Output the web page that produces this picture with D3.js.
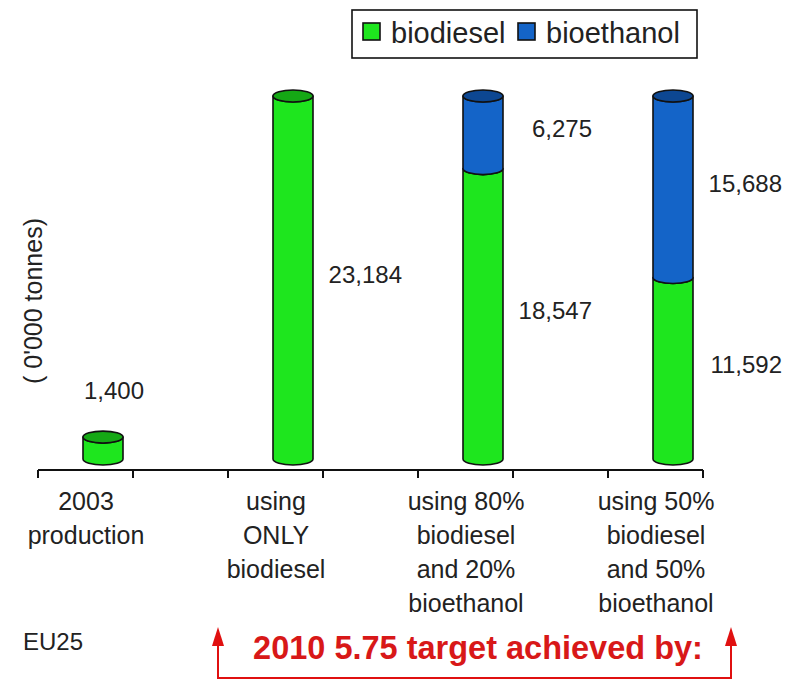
<!DOCTYPE html>
<html lang="en">
<head>
    <meta charset="UTF-8">
    <script src="https://d3js.org/d3.v7.min.js"></script>
    <title>EU25 biofuel target</title>
    <style>
        html, body {
            margin: 0px;
            padding: 0px;
            background-color: #ffffff;
            font-family: "Liberation Sans", Arial, sans-serif;
            color: #222;
        }
        #chart { display: block; }
    </style>
</head>
<body>
    <div id="chart"></div>

    <script>
        // category labels (one line per array entry)
        let categories = [
            ['2003', 'production'],
            ['using', 'ONLY', 'biodiesel'],
            ['using 80%', 'biodiesel', 'and 20%', 'bioethanol'],
            ['using 50%', 'biodiesel', 'and 50%', 'bioethanol']
        ];
        // tonnes shown on the labels ('0,000 tonnes)
        let biodieselLabel = [1400, 23184, 18547, 11592];
        let bioethanolLabel = [0, 0, 6275, 15688];
        // bar heights as drawn (biodiesel-equivalent)
        let biodieselHeight = [1400, 23184, 18547, 11592];
        let bioethanolHeight = [0, 0, 4637, 11592];

        let seriesNames = ['biodiesel', 'bioethanol'];
        let colors = { biodiesel: '#1ee61e', bioethanol: '#1464c8' };
        let capColors = { biodiesel: '#15a815', bioethanol: '#0d4792' };

        let width = 801, height = 681;
        let margin = { top: 96, bottom: 222, left: 38, right: 98 };

        let svg = d3.select('#chart').append('svg')
            .attr('width', width).attr('height', height);

        let keys = categories.map((c, i) => i);
        let x = d3.scalePoint().domain(keys).range([103, 673]);
        let y = d3.scaleLinear().domain([0, 23184]).range([height - margin.bottom, margin.top]);

        let r = 20, ry = 6;
        let fmt = d3.format(',');

        // stacked segments
        let segments = [];
        keys.forEach((k) => {
            let base = 0;
            [biodieselHeight, bioethanolHeight].forEach((arr, s) => {
                let v = arr[k];
                if (v > 0) {
                    segments.push({
                        key: k, series: seriesNames[s],
                        y0: base, y1: base + v,
                        label: s === 0 ? biodieselLabel[k] : bioethanolLabel[k]
                    });
                    base += v;
                }
            });
        });

        function body(d) {
            let cx = x(d.key), yt = y(d.y1), yb = y(d.y0);
            return `M${cx - r},${yt} A${r},${ry} 0 0 0 ${cx + r},${yt} L${cx + r},${yb} A${r},${ry} 0 0 1 ${cx - r},${yb} Z`;
        }

        let bars = svg.append('g');
        bars.selectAll('path')
            .data(segments)
            .join('path')
            .attr('d', body)
            .attr('fill', (d) => colors[d.series])
            .attr('stroke', '#111')
            .attr('stroke-width', 1.6)
            .attr('stroke-linejoin', 'round');

        // caps on top of each stack
        let tops = keys.map((k) => {
            let segs = segments.filter((s) => s.key === k);
            return segs[segs.length - 1];
        });
        bars.selectAll('ellipse')
            .data(tops)
            .join('ellipse')
            .attr('cx', (d) => x(d.key))
            .attr('cy', (d) => y(d.y1))
            .attr('rx', r)
            .attr('ry', ry)
            .attr('fill', (d) => capColors[d.series])
            .attr('stroke', '#111')
            .attr('stroke-width', 1.6);

        // value labels
        let short = (d) => y(d.y0) - y(d.y1) < 40;
        svg.append('g').selectAll('text')
            .data(segments)
            .join('text')
            .attr('x', (d) => short(d) ? x(d.key) + 11 : x(d.key) + 109)
            .attr('y', (d) => short(d) ? y(d.y1) - 38 : (y(d.y0) + y(d.y1)) / 2 + 5)
            .attr('text-anchor', (d) => short(d) ? 'middle' : 'end')
            .attr('font-size', 24)
            .attr('fill', '#222')
            .text((d) => fmt(d.label));

        // x axis
        let axisY = height - margin.bottom + 11;
        let tickPos = d3.scaleLinear().domain([0, 7]).range([margin.left, width - margin.right]);
        let axis = svg.append('g').attr('stroke', '#111').attr('stroke-width', 2);
        axis.append('line')
            .attr('x1', tickPos(0)).attr('x2', tickPos(7))
            .attr('y1', axisY).attr('y2', axisY);
        axis.selectAll('.tick')
            .data(d3.range(8))
            .join('line')
            .attr('class', 'tick')
            .attr('x1', (d) => tickPos(d)).attr('x2', (d) => tickPos(d))
            .attr('y1', axisY).attr('y2', axisY + 8);

        let labels = svg.append('g').selectAll('text')
            .data(keys)
            .join('text')
            .attr('text-anchor', 'middle')
            .attr('font-size', 25)
            .attr('fill', '#222');
        labels.selectAll('tspan')
            .data((k) => categories[k].map((line) => ({ k, line })))
            .join('tspan')
            .attr('x', (d) => x(d.k) - 17)
            .attr('y', (d, i) => axisY + 40 + i * 34)
            .text((d) => d.line);

        // y axis title
        svg.append('text')
            .attr('transform', `translate(42,301) rotate(-90)`)
            .attr('text-anchor', 'middle')
            .attr('font-size', 25)
            .attr('fill', '#222')
            .text("( 0'000 tonnes)");

        // legend
        let legend = svg.append('g');
        legend.append('rect')
            .attr('x', 352).attr('y', 10).attr('width', 345).attr('height', 48)
            .attr('fill', '#fff').attr('stroke', '#111').attr('stroke-width', 1.6);
        let legendX = [363, 518];
        let items = legend.selectAll('g')
            .data(seriesNames)
            .join('g')
            .attr('transform', (d, i) => `translate(${legendX[i]},0)`);
        items.append('rect')
            .attr('x', 0).attr('y', 23).attr('width', 17).attr('height', 17)
            .attr('fill', (d) => colors[d]).attr('stroke', '#111').attr('stroke-width', 1.6);
        items.append('text')
            .attr('x', 28).attr('y', 43)
            .attr('font-size', 29)
            .attr('fill', '#222')
            .text((d) => d);

        // footer
        svg.append('text')
            .attr('x', 23).attr('y', 650)
            .attr('font-size', 24)
            .attr('fill', '#222')
            .text('EU25');

        let red = '#e01010';
        let bracket = svg.append('g');
        bracket.append('path')
            .attr('d', 'M218,640 L218,678 L731,678 L731,640')
            .attr('fill', 'none')
            .attr('stroke', red)
            .attr('stroke-width', 2);
        [218, 731].forEach((ax) => {
            bracket.append('path')
                .attr('d', `M${ax},627 L${ax - 6},646 L${ax + 6},646 Z`)
                .attr('fill', red);
        });
        bracket.append('text')
            .attr('x', 478).attr('y', 659)
            .attr('text-anchor', 'middle')
            .attr('font-size', 32.5)
            .attr('font-weight', 'bold')
            .attr('fill', '#d81818')
            .text('2010 5.75 target achieved by:');
    </script>
</body>
</html>
